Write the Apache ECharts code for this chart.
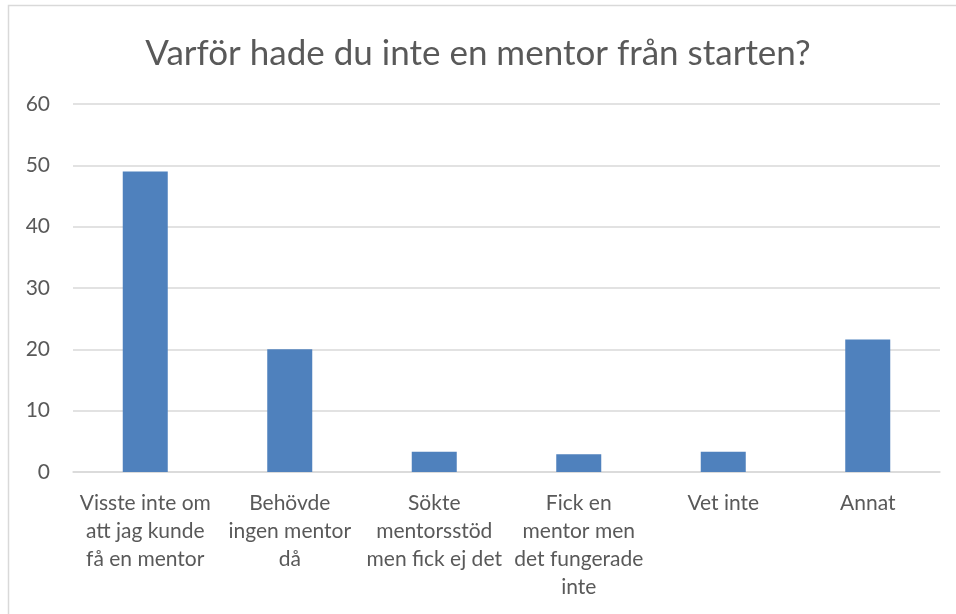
<!DOCTYPE html>
<html>
<head>
<meta charset="utf-8">
<script src="https://cdn.jsdelivr.net/npm/echarts@6/dist/echarts.min.js"></script>
<style>
  html, body { margin: 0; padding: 0; background: #fff; }
  #chart { width: 956px; height: 614px; }
</style>
</head>
<body>
<div id="chart"></div>
<script>
  // svarsalternativ och andel svar
  const categories = [
    'Visste inte om\natt jag kunde\nfå en mentor',
    'Behövde\ningen mentor\ndå',
    'Sökte\nmentorsstöd\nmen fick ej det',
    'Fick en\nmentor men\ndet fungerade\ninte',
    'Vet inte',
    'Annat'
  ];
  const values = [49, 20, 3.3, 2.9, 3.3, 21.6];
  const yTicks = [0, 10, 20, 30, 40, 50, 60];

  const labelFont = 'Lato, "Open Sans", sans-serif';
  const grey = '#595959';

  const myChart = echarts.init(document.getElementById('chart'));
  myChart.setOption({
    animation: false,
    title: {
      text: 'Varför hade du inte en mentor från starten?',
      left: 'center',
      top: 31,
      textStyle: { color: grey, fontSize: 35, fontWeight: 'normal', fontFamily: labelFont }
    },
    graphic: [
      {
        type: 'rect',
        shape: { x: 8.5, y: 5.5, width: 1000, height: 700 },
        style: { fill: 'none', stroke: '#d9d9d9', lineWidth: 1.5 },
        silent: true
      }
    ],
    grid: { left: 73, right: 16, top: 104, bottom: 142 },
    xAxis: {
      type: 'category',
      data: categories,
      axisLine: { lineStyle: { color: '#d9d9d9', width: 1.5 } },
      axisTick: { show: false },
      axisLabel: {
        color: grey, fontSize: 21, fontFamily: labelFont,
        lineHeight: 28, margin: 17, interval: 0
      }
    },
    yAxis: {
      type: 'value',
      min: yTicks[0],
      max: yTicks[yTicks.length - 1],
      interval: 10,
      axisLine: { show: false },
      axisTick: { show: false },
      axisLabel: { color: grey, fontSize: 21, fontFamily: labelFont, margin: 23 },
      splitLine: { lineStyle: { color: '#d9d9d9', width: 1.5 } }
    },
    series: [
      {
        type: 'bar',
        data: values,
        barWidth: 45,
        itemStyle: { color: '#4f81bd' }
      }
    ]
  });
</script>
</body>
</html>
